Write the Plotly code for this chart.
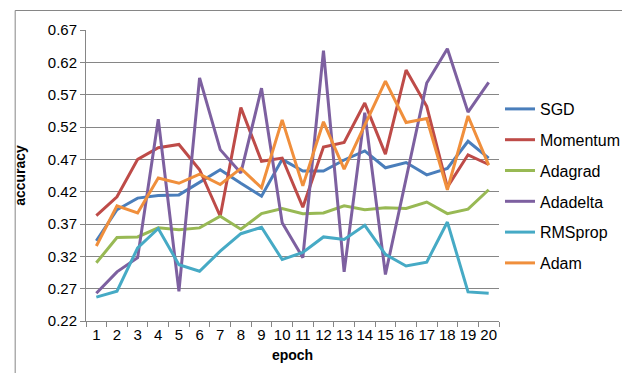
import plotly.graph_objects as go

epochs = [str(i) for i in range(1, 21)]

sgd = [0.344, 0.392, 0.410, 0.414, 0.415, 0.435, 0.454, 0.433, 0.413, 0.470,
       0.452, 0.452, 0.469, 0.483, 0.457, 0.465, 0.446, 0.456, 0.498, 0.472]
momentum = [0.383, 0.412, 0.470, 0.488, 0.493, 0.454, 0.382, 0.550, 0.467, 0.472,
            0.396, 0.489, 0.496, 0.557, 0.478, 0.608, 0.552, 0.427, 0.477, 0.462]
adagrad = [0.310, 0.349, 0.350, 0.364, 0.361, 0.364, 0.382, 0.362, 0.386, 0.394,
           0.386, 0.387, 0.398, 0.392, 0.395, 0.394, 0.404, 0.386, 0.393, 0.423]
adadelta = [0.263, 0.296, 0.318, 0.532, 0.266, 0.596, 0.485, 0.449, 0.580, 0.372,
            0.318, 0.638, 0.296, 0.542, 0.292, 0.442, 0.588, 0.641, 0.543, 0.589]
rmsprop = [0.257, 0.266, 0.333, 0.363, 0.307, 0.297, 0.328, 0.355, 0.365, 0.315,
           0.326, 0.350, 0.346, 0.368, 0.323, 0.305, 0.311, 0.373, 0.265, 0.263]
adam = [0.336, 0.398, 0.387, 0.441, 0.433, 0.447, 0.431, 0.456, 0.426, 0.531,
        0.429, 0.528, 0.455, 0.523, 0.591, 0.527, 0.533, 0.423, 0.537, 0.461]

series_names = ["SGD", "Momentum", "Adagrad", "Adadelta", "RMSprop", "Adam"]
series_values = [sgd, momentum, adagrad, adadelta, rmsprop, adam]
colors = ["#4A7EBB", "#BE4B48", "#98B954", "#7D60A0", "#46AAC5", "#F08F3C"]

y_ticks = [0.22, 0.27, 0.32, 0.37, 0.42, 0.47, 0.52, 0.57, 0.62, 0.67]

FONT = "Liberation Sans"

fig = go.Figure()
for i, (name, vals, col) in enumerate(zip(series_names, series_values, colors)):
    fig.add_trace(go.Scatter(
        x=epochs, y=vals, name=name, mode="lines",
        line=dict(color=col, width=3),
        legendgroup=f"g{i}",
    ))

# pixel geometry helpers
L, R, T, B = 74, 491, 22, 313
W, H = 630, 373
def px(x):
    return (x - L) / (R - L)
def py(y):
    return (B - y) / (B - T)

fig.update_layout(
    width=W, height=H,
    margin=dict(l=L, r=W - R, t=T, b=H - B, pad=0),
    paper_bgcolor="white", plot_bgcolor="white",
    font=dict(family=FONT, size=15, color="black"),
    showlegend=True,
    legend=dict(
        x=px(492), y=py(84), xanchor="left", yanchor="top",
        font=dict(family=FONT, size=16, color="black"),
        tracegroupgap=7,
        bgcolor="rgba(0,0,0,0)",
    ),
    xaxis=dict(
        type="category", range=[-0.5, 19.5],
        showgrid=False, showline=True, linecolor="#868686", linewidth=1,
        ticks="outside", tickson="boundaries", ticklen=5, tickcolor="#868686",
        tickangle=0,
        tickfont=dict(family=FONT, size=15),
        title=dict(text="<b>epoch</b>", font=dict(family=FONT, size=14), standoff=8),
        fixedrange=True,
    ),
    yaxis=dict(
        range=[0.22, 0.67], tickvals=y_ticks, ticktext=[f"{v:.2f}" for v in y_ticks],
        showgrid=True, gridcolor="#868686", gridwidth=1,
        showline=True, linecolor="#868686", linewidth=1,
        ticks="outside", ticklen=5, tickcolor="#868686",
        tickfont=dict(family=FONT, size=15),
        zeroline=False,
        title=dict(text="<b>accuracy</b>", font=dict(family=FONT, size=14), standoff=18),
        fixedrange=True,
    ),
    shapes=[dict(
        type="rect", xref="paper", yref="paper",
        x0=px(2.5), x1=px(626.5), y0=py(370.5), y1=py(2.5),
        line=dict(color="#868686", width=1), fillcolor="rgba(0,0,0,0)", layer="below",
    )],
)

fig.write_html("out.html")
